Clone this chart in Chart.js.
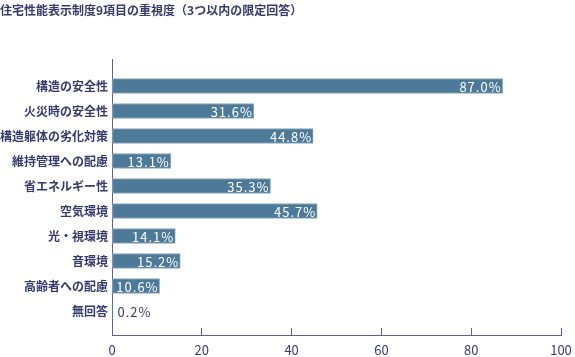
<!DOCTYPE html>
<html>
<head>
<meta charset="utf-8">
<script src="https://cdn.jsdelivr.net/npm/chart.js@4/dist/chart.umd.min.js"></script>
<style>
  html, body { margin: 0; padding: 0; background: #ffffff; }
  #wrap { width: 575px; height: 357px; }
</style>
</head>
<body>
<div id="wrap"><canvas id="c" width="575" height="357"></canvas></div>
<script>
const titleText = '住宅性能表示制度9項目の重視度（3つ以内の限定回答）';
const categories = ['構造の安全性', '火災時の安全性', '構造躯体の劣化対策', '維持管理への配慮', '省エネルギー性', '空気環境', '光・視環境', '音環境', '高齢者への配慮', '無回答'];
const values = [87.0, 31.6, 44.8, 13.1, 35.3, 45.7, 14.1, 15.2, 10.6, 0.2];
const xTicks = [0, 20, 40, 60, 80, 100];

const NAVY = '#363a6c';
const BAR = '#4e7a9a';
const FONT = '"Noto Sans CJK JP", "Noto Sans", sans-serif';

const valueLabels = {
  id: 'valueLabels',
  afterDatasetsDraw(chart) {
    const ctx = chart.ctx;
    const meta = chart.getDatasetMeta(0);
    ctx.save();
    ctx.font = '13px ' + FONT;
    ctx.textBaseline = 'middle';
    try { ctx.letterSpacing = '1px'; } catch (e) {}
    meta.data.forEach((bar, i) => {
      const v = values[i];
      const txt = v.toFixed(1) + '%';
      if (v < 5) {
        ctx.fillStyle = NAVY;
        ctx.textAlign = 'left';
        ctx.fillText(txt, bar.base + 5, bar.y + 1);
      } else {
        ctx.fillStyle = '#ffffff';
        ctx.textAlign = 'right';
        ctx.fillText(txt, bar.x - 1, bar.y + 1);
      }
    });
    ctx.restore();
  }
};

new Chart(document.getElementById('c'), {
  type: 'bar',
  data: {
    datasets: [{
      data: values.map((v, i) => ({ x: v, y: i })),
      backgroundColor: BAR,
      borderColor: '#8eaabd',
      borderWidth: 1,
      borderSkipped: false,
      barThickness: 15
    }]
  },
  options: {
    indexAxis: 'y',
    responsive: false,
    animation: false,
    layout: { padding: { left: 0, right: 0, top: 0, bottom: 0 } },
    plugins: {
      legend: { display: false },
      tooltip: { enabled: false },
      title: {
        display: true,
        text: titleText,
        align: 'start',
        color: NAVY,
        font: { family: FONT, size: 12, weight: 'bold', lineHeight: 1.2 },
        padding: { top: 3, bottom: 41.6 }
      }
    },
    scales: {
      x: {
        type: 'linear',
        position: 'bottom',
        min: 0,
        max: 100,
        afterBuildTicks: s => { s.ticks = xTicks.map(v => ({ value: v })); },
        afterFit: s => { s.height = 22; s.paddingRight = 14; s.paddingLeft = 0; },
        grid: { drawOnChartArea: false, drawTicks: true, tickLength: -7, color: '#5d6191', tickColor: '#5d6191' },
        border: { display: true, color: '#5d6191', width: 1 },
        ticks: { color: NAVY, padding: 14, font: { family: FONT, size: 13 } }
      },
      y: {
        type: 'linear',
        offset: false,
        bounds: 'data',
        reverse: true,
        min: -1.08,
        max: 9.96,
        afterBuildTicks: s => { s.ticks = categories.map((c, i) => ({ value: i })); },
        afterFit: s => { s.width = 112; s.paddingTop = 0; s.paddingBottom = 0; },
        grid: { display: false, drawTicks: false, offset: false },
        border: { display: true, color: '#5d6191', width: 1 },
        ticks: {
          color: NAVY,
          padding: 4,
          font: { family: FONT, size: 12, weight: 'bold' },
          callback: v => categories[v] !== undefined ? categories[v] : ''
        }
      }
    }
  },
  plugins: [valueLabels]
});
</script>
</body>
</html>
